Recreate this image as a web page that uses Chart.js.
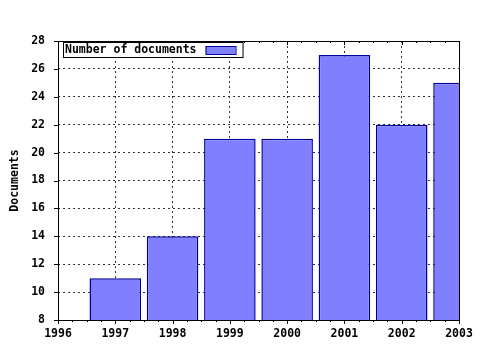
<!DOCTYPE html>
<html>
<head>
<meta charset="utf-8">
<script src="https://cdn.jsdelivr.net/npm/chart.js@4"></script>
<style>
  html, body { margin: 0; padding: 0; background: #fff; }
  #wrap { width: 480px; height: 350px; }
</style>
</head>
<body>
<div id="wrap"><canvas id="docsChart" width="480" height="350"></canvas></div>
<script>
const years = [1997, 1998, 1999, 2000, 2001, 2002, 2003];
const docCounts = [11, 14, 21, 21, 27, 22, 25];
const seriesLabel = 'Number of documents';
const yTitle = 'Documents';

const monoFont = '"DejaVu Sans Mono", monospace';
const barFill = '#8080ff';
const barEdge = '#000099';

// frame, gnuplot-style tick marks and the key box
const framePlugin = {
    id: 'frame',
    afterDraw(chart) {
        const { ctx, chartArea: a, scales } = chart;
        const xs = scales.x, ys = scales.y;
        ctx.save();
        ctx.strokeStyle = '#000';
        ctx.lineWidth = 1;
        ctx.setLineDash([]);
        ctx.strokeRect(Math.round(a.left) + 0.5, Math.round(a.top) + 0.5,
            Math.round(a.right - a.left), Math.round(a.bottom - a.top));

        ctx.beginPath();
        for (let v = xs.min; v <= xs.max + 0.001; v += 0.25) {
            const px = Math.round(xs.getPixelForValue(v)) + 0.5;
            const major = Math.abs(v - Math.round(v)) < 0.001;
            const len = major ? 4 : 2;
            ctx.moveTo(px, a.bottom);
            ctx.lineTo(px, a.bottom + len);
            ctx.moveTo(px, a.top);
            ctx.lineTo(px, a.top + len);
        }
        for (let v = ys.min; v <= ys.max + 0.001; v += 2) {
            const py = Math.round(ys.getPixelForValue(v)) + 0.5;
            ctx.moveTo(a.left - 4, py);
            ctx.lineTo(a.left, py);
        }
        ctx.stroke();

        // key
        const kx = a.left + 5, ky = a.top + 1;
        ctx.font = 'bold 11.5px ' + monoFont;
        const tw = ctx.measureText(seriesLabel).width;
        const boxW = tw + 48, boxH = 15;
        ctx.fillStyle = '#fff';
        ctx.fillRect(kx, ky, boxW, boxH);
        ctx.strokeRect(kx + 0.5, ky + 0.5, boxW, boxH);
        ctx.fillStyle = '#000';
        ctx.textBaseline = 'middle';
        ctx.textAlign = 'left';
        ctx.fillText(seriesLabel, kx + 2, ky + boxH / 2 + 1);
        ctx.fillStyle = barFill;
        ctx.fillRect(kx + tw + 11, ky + 4, 30, 8);
        ctx.strokeStyle = barEdge;
        ctx.strokeRect(kx + tw + 11.5, ky + 4.5, 30, 8);
        ctx.restore();
    }
};

const ctx = document.getElementById('docsChart').getContext('2d');
new Chart(ctx, {
    type: 'bar',
    data: {
        datasets: [{
            label: seriesLabel,
            data: years.map((y, i) => ({ x: y, y: docCounts[i] })),
            backgroundColor: barFill,
            borderColor: barEdge,
            borderWidth: 1.5,
            borderSkipped: false,
            barPercentage: 0.9,
            categoryPercentage: 1.0
        }]
    },
    options: {
        responsive: false,
        animation: false,
        layout: { padding: { left: 0, top: 41, right: 21, bottom: 0 } },
        plugins: {
            legend: { display: false },
            tooltip: { enabled: false }
        },
        scales: {
            x: {
                type: 'linear',
                min: 1996,
                max: 2003,
                offset: false,
                afterFit: s => { s.height = 30; },
                ticks: {
                    stepSize: 1,
                    padding: 7,
                    color: '#000',
                    font: { family: monoFont, weight: 'bold', size: 11.5 },
                    callback: v => String(v),
                    maxRotation: 0
                },
                grid: { offset: false, color: '#333', drawTicks: false, lineWidth: 1 },
                border: { display: false, dash: [2, 3] }
            },
            y: {
                min: 8,
                max: 28,
                afterFit: s => { s.width = 58; },
                ticks: {
                    stepSize: 2,
                    padding: 13,
                    color: '#000',
                    font: { family: monoFont, weight: 'bold', size: 11.5 }
                },
                grid: { color: '#333', drawTicks: false, lineWidth: 1 },
                border: { display: false, dash: [2, 3] },
                title: {
                    display: true,
                    text: yTitle,
                    color: '#000',
                    padding: { top: 8, bottom: 0 },
                    font: { family: monoFont, weight: 'bold', size: 11.5 }
                }
            }
        }
    },
    plugins: [framePlugin]
});
</script>
</body>
</html>
